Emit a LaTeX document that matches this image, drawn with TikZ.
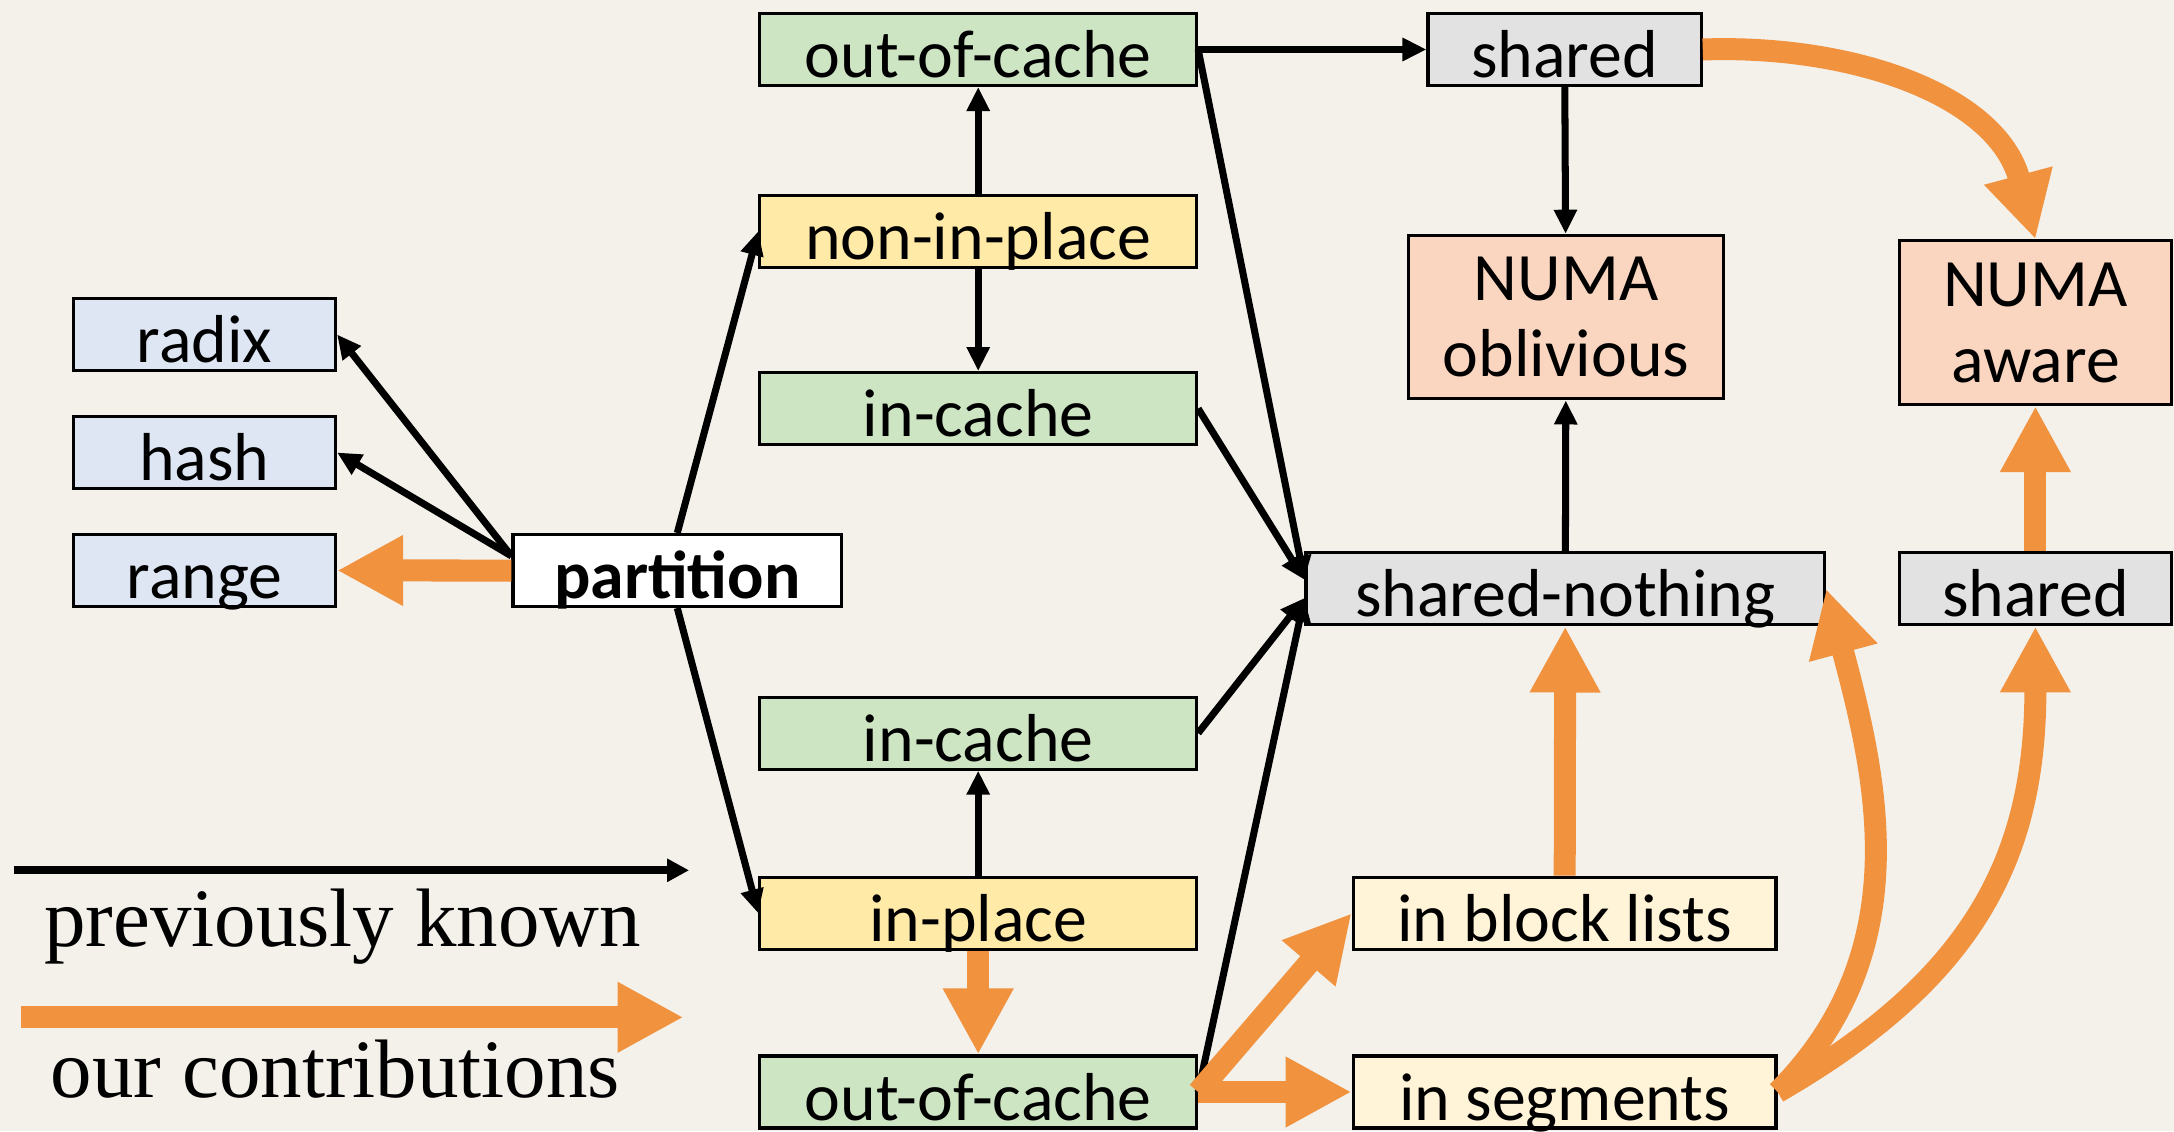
\documentclass[tikz,border=0pt]{standalone}
\usepackage{fontspec}
\setmainfont{Carlito}
\newfontfamily\legendfont{Liberation Serif}
\usetikzlibrary{arrows.meta}

\definecolor{paper}{RGB}{244,241,235}
\definecolor{methodblue}{RGB}{222,230,244}
\definecolor{cachegreen}{RGB}{206,229,196}
\definecolor{placeyellow}{RGB}{255,234,167}
\definecolor{layoutyellow}{RGB}{255,244,216}
\definecolor{sharegrey}{RGB}{226,226,226}
\definecolor{numasalmon}{RGB}{250,214,192}
\definecolor{contrib}{RGB}{241,146,63}

\tikzstyle{box} = [rectangle, draw=black, line width=0.9pt, inner xsep=0pt, inner ysep=0.06cm, text height=0.58cm, text depth=0.02cm, minimum height=0.72cm, font=\fontsize{19.3}{22}\selectfont]
\tikzstyle{method} = [box, fill=methodblue, minimum width=2.62cm]
\tikzstyle{cache} = [box, fill=cachegreen, minimum width=4.367cm]
\tikzstyle{place} = [box, fill=placeyellow, minimum width=4.367cm]
\tikzstyle{layout} = [box, fill=layoutyellow, minimum width=4.229cm]
\tikzstyle{share} = [box, fill=sharegrey]
\tikzstyle{numa} = [rectangle, draw=black, line width=0.9pt, fill=numasalmon, minimum height=1.636cm, align=center, font=\fontsize{19.3}{21.6}\selectfont]
\tikzstyle{arrow} = [line width=2pt, -{Triangle[length=0.24cm, width=0.22cm]}]
\tikzstyle{contribution} = [contrib, line width=0.22cm, -{Triangle[length=0.66cm, width=0.66cm]}]

\begin{document}
\begin{tikzpicture}[node distance=1.18cm]

\fill [paper] (0,0) rectangle (21.74,11.31);
\useasboundingbox (0,0) rectangle (21.74,11.31);

% partitioning functions
\node (radix) [method] at (2.045,7.965) {radix};
\node (hash) [method, below of=radix] {hash};
\node (range) [method, below of=hash] {range};
\node (partition) [box, fill=white, minimum width=3.286cm] at (6.773,5.605) {\bfseries partition};

% non-in-place / in-place variants
\node (outtop) [cache] at (9.782,10.815) {out-of-cache};
\node (nonin) [place] at (9.782,8.998) {non-in-place};
\node (incachetop) [cache] at (9.782,7.224) {in-cache};
\node (incachebot) [cache] at (9.782,3.979) {in-cache};
\node (inplace) [place] at (9.782,2.177) {in-place};
\node (outbot) [cache] at (9.782,0.39) {out-of-cache};

% parallel variants
\node (sharedtop) [share, minimum width=2.731cm] at (15.646,10.815) {shared};
\node (oblivious) [numa, minimum width=3.147cm] at (15.66,8.139) {NUMA\\oblivious};
\node (aware) [numa, minimum width=2.72cm] at (20.354,8.083) {NUMA\\aware};
\node (nothing) [share, minimum width=5.186cm] at (15.653,5.421) {shared-nothing};
\node (sharedr) [share, minimum width=2.72cm] at (20.354,5.421) {shared};
\node (blocklists) [layout] at (15.646,2.177) {in block lists};
\node (segments) [layout] at (15.646,0.39) {in segments};

% legend
\coordinate (knownA) at (0.139,2.607);
\coordinate (knownB) at (6.891,2.607);
\coordinate (oursA) at (0.208,1.137);
\coordinate (oursB) at (6.835,1.137);
\draw [line width=2.3pt, -{Triangle[length=0.22cm, width=0.22cm]}] (knownA) -- (knownB);
\draw [contribution] (oursA) -- (oursB);
\node (known) [anchor=base, font=\legendfont\fontsize{23.6}{26}\selectfont] at (3.425,1.844) {previously known};
\node (ours) [anchor=base, font=\legendfont\fontsize{23.6}{26}\selectfont] at (3.355,0.333) {our contributions};

% known
\draw [arrow] (partition.175) -- (radix.east);
\draw [arrow] (partition.175) -- (hash.east);
\draw [arrow] (partition.north) -- (nonin.west);
\draw [arrow] (partition.south) -- (inplace.west);
\draw [arrow] (nonin) -- (outtop);
\draw [arrow] (nonin) -- (incachetop);
\draw [arrow] (inplace) -- (incachebot);
\draw [arrow] (outtop) -- (sharedtop);
\draw [arrow] (outtop.east) -- (nothing.178);
\draw [arrow] (incachetop.east) -- (nothing.178);
\draw [arrow] (incachebot.east) -- (nothing.182);
\draw [arrow] (outbot.east) -- (nothing.182);
\draw [arrow] (sharedtop) -- (oblivious);
\draw [arrow] (nothing) -- (oblivious);

% new
\draw [contribution] (partition.west) -- (range.east);
\draw [contribution] (inplace) -- (outbot);
\draw [contribution] (outbot.east) -- (blocklists.west);
\draw [contribution] (outbot.east) -- (segments.west);
\draw [contribution] (blocklists) -- (nothing);
\draw [contribution] (sharedr) -- (aware);
\draw [contribution] (sharedtop.east) to[out=2, in=105] (aware.north);
\draw [contribution] (segments.east) to[out=30, in=-90, looseness=1.1] (sharedr.south);
\draw [contribution] (segments.east) to[out=45, in=-75] (nothing.east);

\end{tikzpicture}
\end{document}
